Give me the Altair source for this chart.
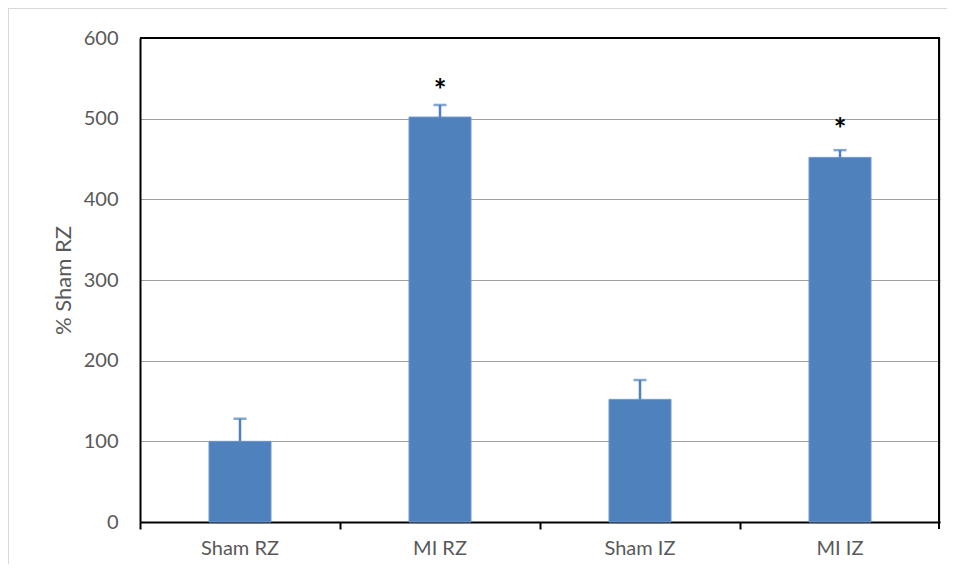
import altair as alt
import pandas as pd

categories = ["Sham RZ", "MI RZ", "Sham IZ", "MI IZ"]
means = [100, 502, 152, 452]
upper = [128, 517, 176, 461]
star_cats = ["MI RZ", "MI IZ"]
star_pos = [541, 492]
star_labels = ["*", "*"]

df = pd.DataFrame({"cat": categories, "mean": means, "upper": upper})
stars_df = pd.DataFrame({"cat": star_cats, "pos": star_pos, "label": star_labels})

BLUE = "#4F81BD"
TXT = "#595959"
FONT = "Lato"

xenc = alt.X(
    "cat:N",
    sort=categories,
    scale=alt.Scale(paddingInner=0, paddingOuter=0),
    axis=alt.Axis(
        title=None,
        bandPosition=0,
        labelAngle=0,
        labelFont=FONT,
        labelFontSize=20,
        labelColor=TXT,
        labelPadding=9,
        tickSize=7,
        tickColor="black",
        tickWidth=2,
        domainColor="black",
        domainWidth=2,
        grid=False,
    ),
)

yscale = alt.Scale(domain=[0, 600], nice=False)

bars = alt.Chart(df).mark_bar(size=62, color=BLUE, stroke="#6f97cc", strokeWidth=1).encode(
    x=xenc,
    y=alt.Y(
        "mean:Q",
        scale=yscale,
        axis=alt.Axis(
            title="% Sham RZ",
            values=[0, 100, 200, 300, 400, 500, 600],
            titleFont=FONT,
            titleFontSize=22,
            titleFontWeight="normal",
            titleColor=TXT,
            titlePadding=8,
            labelFont=FONT,
            labelFontSize=20,
            labelColor=TXT,
            labelPadding=22,
            tickSize=0,
            domainColor="black",
            domainWidth=2,
            grid=True,
            gridColor="#a0a0a0",
            gridWidth=1,
        ),
    ),
)

err = alt.Chart(df).mark_rule(color=BLUE, strokeWidth=2.5).encode(
    x=alt.X("cat:N", sort=categories),
    y="mean:Q",
    y2="upper:Q",
)

caps = alt.Chart(df).mark_tick(color=BLUE, size=13, thickness=2.5, orient="horizontal").encode(
    x=alt.X("cat:N", sort=categories),
    y="upper:Q",
)

stars = alt.Chart(stars_df).mark_text(
    font=FONT, fontSize=30, fontWeight="bold", color="black", baseline="middle", dy=6
).encode(
    x=alt.X("cat:N", sort=categories),
    y="pos:Q",
    text="label:N",
)

frame_df = pd.DataFrame({"k": [0]})
frame_top = alt.Chart(frame_df).mark_rule(color="#d9d9d9", strokeWidth=2, clip=False).encode(
    x=alt.value(-132), x2=alt.value(820), y=alt.value(-30)
)
frame_left = alt.Chart(frame_df).mark_rule(color="#d9d9d9", strokeWidth=2, clip=False).encode(
    x=alt.value(-132), y=alt.value(-30), y2=alt.value(540)
)
border_top = alt.Chart(frame_df).mark_rule(color="black", strokeWidth=2, clip=False).encode(
    x=alt.value(0), x2=alt.value(800), y=alt.value(0)
)
border_right = alt.Chart(frame_df).mark_rule(color="black", strokeWidth=2, clip=False).encode(
    x=alt.value(799), y=alt.value(0), y2=alt.value(491)
)

chart = (
    alt.layer(frame_top, frame_left, bars, err, caps, stars, border_top, border_right)
    .properties(
        width=800,
        height=484,
        autosize=alt.AutoSizeParams(type="none"),
        padding={"left": 132, "top": 30, "right": 7, "bottom": 42},
    )
    .configure_view(stroke=None)
    .configure(background="white")
)

chart.save("out.html", embed_options={"renderer": "svg", "actions": False})
